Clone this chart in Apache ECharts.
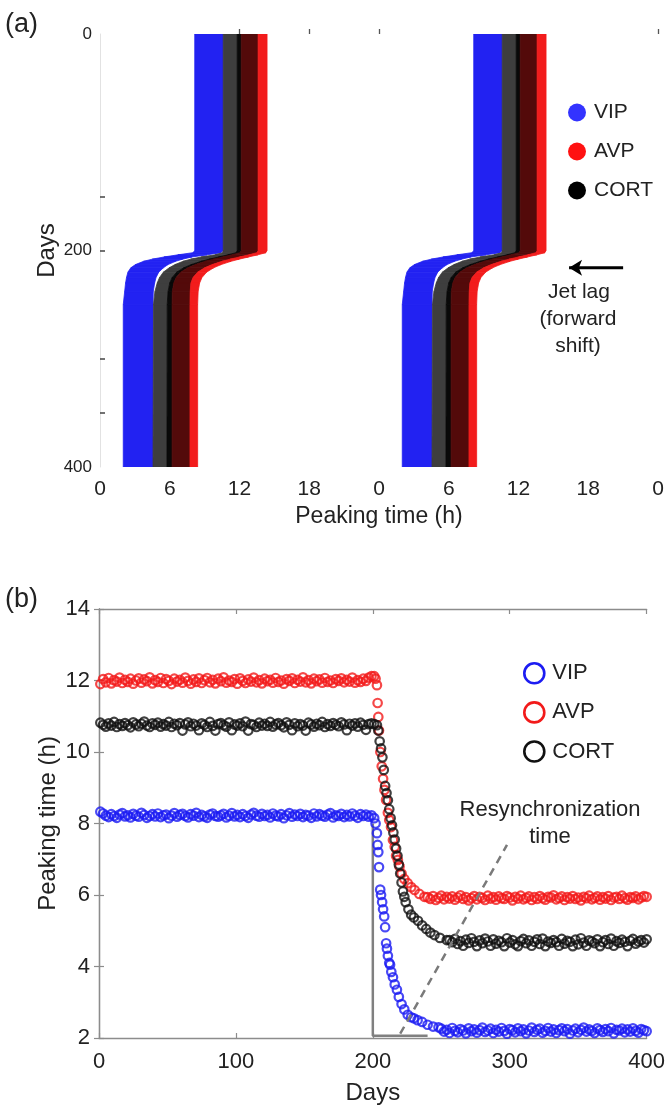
<!DOCTYPE html>
<html><head><meta charset="utf-8">
<script src="https://cdn.jsdelivr.net/npm/echarts@6/dist/echarts.min.js"></script>
<style>html,body{margin:0;padding:0;background:#fff}#c{width:668px;height:1111px}</style>
</head><body><div id="c"></div>
<script>
// ---------- Panel (a): band edges (hours) at key days ----------
const bandDays  = [0, 200, 202, 204, 206, 208, 210, 213, 216, 220, 225, 230, 238, 250, 400];
const vipStart  = [8.15, 8.15, 8.0, 6.7, 5.5, 4.5, 3.75, 3.05, 2.65, 2.4, 2.28, 2.2, 2.12, 2.0, 2.0];
const vipEnd    = [10.6, 10.6, 10.4, 9.2, 7.9, 7.1, 6.5, 5.85, 5.45, 5.05, 4.82, 4.7, 4.58, 4.56, 4.56];
const cortStart = [10.6, 10.6, 10.55, 9.9, 8.7, 7.8, 7.15, 6.45, 5.95, 5.45, 5.12, 4.92, 4.72, 4.6, 4.56];
const cortCore  = [11.8, 11.8, 11.7, 11.0, 10.2, 9.4, 8.7, 7.85, 7.2, 6.6, 6.2, 6.0, 5.85, 5.78, 5.76];
const cortEnd   = [12.15, 12.15, 12.05, 11.35, 10.55, 9.75, 9.05, 8.2, 7.55, 6.95, 6.55, 6.35, 6.22, 6.2, 6.2];
const avpCore   = [13.6, 13.6, 13.5, 12.8, 12.0, 11.2, 10.5, 9.65, 9.0, 8.4, 8.0, 7.82, 7.76, 7.74, 7.74];
const avpEnd    = [14.37, 14.37, 14.27, 13.57, 12.77, 11.97, 11.27, 10.42, 9.77, 9.17, 8.77, 8.57, 8.44, 8.4, 8.4];
const aHourTicks = [0, 6, 12, 18, 24, 30, 36, 42, 48];
const aDayLabels = [0, 200, 400];
const aDayTicks  = [150, 200, 300, 350];
const jetLagArrow = [[45.0, 216], [40.35, 216]];

// ---------- Panel (b): peaking time (h) ----------
// steady state before the shift: days 1,3,...,199
const preStart = 1, preStep = 2;
const vipPre = [
8.33,8.28,8.22,8.18,8.26,8.21,8.16,8.25,8.29,8.20,
8.23,8.17,8.27,8.22,8.19,8.30,8.24,8.16,8.21,8.26,
8.20,8.28,8.18,8.23,8.25,8.15,8.22,8.29,8.19,8.24,
8.27,8.21,8.17,8.26,8.22,8.30,8.18,8.24,8.20,8.16,
8.25,8.28,8.21,8.19,8.23,8.27,8.17,8.22,8.29,8.20,
8.24,8.18,8.26,8.21,8.16,8.25,8.30,8.22,8.19,8.27,
8.21,8.24,8.17,8.28,8.22,8.20,8.26,8.15,8.23,8.29,
8.19,8.25,8.21,8.27,8.18,8.24,8.22,8.16,8.28,8.20,
8.26,8.22,8.19,8.25,8.29,8.17,8.23,8.21,8.27,8.18,
8.24,8.20,8.28,8.22,8.16,8.26,8.21,8.25,8.19,8.23];
const avpPre = [
11.90,12.04,11.95,12.07,11.92,12.01,11.97,12.08,11.93,12.02,
11.96,12.05,11.91,12.00,12.06,11.94,12.03,11.98,12.09,11.92,
12.01,11.96,12.07,11.93,12.04,11.99,11.90,12.05,11.97,12.02,
11.94,12.08,11.99,11.91,12.03,11.96,12.06,11.93,12.01,12.07,
11.95,12.02,11.92,12.05,11.98,12.09,11.94,12.00,11.96,12.04,
11.91,12.06,11.99,11.93,12.03,11.97,12.08,11.95,12.01,11.92,
12.05,11.98,12.02,11.94,12.07,11.96,12.00,11.91,12.04,11.99,
12.06,11.93,12.02,11.97,12.09,11.95,12.01,11.92,12.05,11.98,
12.03,11.94,12.07,11.96,12.00,11.93,12.04,11.99,12.06,11.95,
12.02,11.97,12.08,11.94,12.01,11.96,12.05,11.99,12.08,12.12];
const cortPre = [
10.82,10.76,10.71,10.80,10.74,10.84,10.70,10.78,10.73,10.81,
10.75,10.69,10.83,10.77,10.72,10.79,10.85,10.74,10.70,10.80,
10.76,10.82,10.71,10.78,10.74,10.84,10.70,10.79,10.75,10.81,
10.60,10.77,10.83,10.72,10.79,10.74,10.61,10.80,10.76,10.70,
10.84,10.73,10.60,10.78,10.81,10.75,10.71,10.83,10.61,10.77,
10.74,10.80,10.72,10.85,10.60,10.78,10.76,10.70,10.82,10.74,
10.79,10.73,10.84,10.71,10.77,10.81,10.75,10.69,10.83,10.76,
10.61,10.80,10.72,10.78,10.74,10.60,10.82,10.77,10.71,10.79,
10.75,10.84,10.70,10.78,10.73,10.81,10.76,10.72,10.83,10.77,
10.61,10.79,10.74,10.80,10.71,10.82,10.76,10.62,10.78,10.80];
// transition after the jet lag: [day, hour]
const vipShift = [[201,8.15],[202,8.0],[203,7.73],[203.5,7.4],[204,7.2],[204.5,6.78],[205.4,6.15],[206,6.0],[206.8,5.8],[207.5,5.6],[208.3,5.4],[209,5.1],[209.7,4.65],[210.3,4.5],[211,4.3],[212,4.1],[212.6,4.05],[213.5,3.85],[214.7,3.7],[216,3.5],[217.6,3.35],[219,3.15],[221,2.95],[223,2.8],[225.5,2.65],[228,2.58],[230,2.55],[232.7,2.5],[236,2.45],[240,2.37],[244,2.32],[248,2.3]];
const avpShift = [[201,12.12],[202,12.05],[203,11.87],[203.5,11.37],[204,10.98],[204.5,10.6],[205.5,10.0],[206.5,9.6],[207.5,9.25],[208.5,8.94],[209.7,8.66],[211,8.3],[212,8.1],[213.3,7.9],[214.7,7.54],[216,7.35],[217,7.1],[218.3,6.98],[219.5,6.8],[221,6.6],[223,6.45],[225.5,6.33],[228,6.22],[230.5,6.14],[234,6.03],[237.7,5.95]];
const cortShift = [[201,10.78],[203,10.75],[204,10.6],[205,10.3],[206,10.1],[207,9.85],[208,9.5],[209,9.05],[210,8.85],[211,8.65],[212,8.4],[213,8.15],[214,7.95],[215,7.75],[216,7.55],[217,7.3],[218,7.1],[219,6.85],[220,6.6],[221,6.35],[222,6.1],[223,5.95],[224,5.8],[226,5.6],[228,5.45],[230,5.37],[233,5.28],[236,5.15],[239,5.05],[242,4.95],[245,4.88],[249,4.8],[254,4.74]];
// steady state after resynchronization
const vipPostStart = 250, avpPostStart = 240, cortPostStart = 256, postStep = 2;
const vipPost = [
2.26,2.18,2.23,2.14,2.28,2.20,2.16,2.25,2.21,2.13,
2.27,2.19,2.24,2.15,2.22,2.29,2.17,2.21,2.26,2.14,
2.23,2.18,2.28,2.20,2.12,2.25,2.22,2.16,2.27,2.19,
2.24,2.13,2.21,2.29,2.17,2.23,2.26,2.15,2.20,2.28,
2.18,2.24,2.14,2.22,2.27,2.19,2.25,2.12,2.21,2.26,
2.16,2.23,2.29,2.18,2.24,2.20,2.14,2.27,2.22,2.17,
2.25,2.19,2.28,2.13,2.23,2.21,2.26,2.16,2.24,2.18,
2.27,2.20,2.15,2.25,2.22,2.19];
const avpPost = [
5.94,5.89,5.97,5.86,5.92,5.98,5.88,5.95,5.90,5.96,
5.87,5.93,5.99,5.89,5.94,5.85,5.91,5.97,5.88,5.95,
5.92,5.86,5.98,5.90,5.94,5.87,5.96,5.91,5.89,5.97,
5.93,5.85,5.95,5.90,5.98,5.88,5.92,5.96,5.86,5.94,
5.89,5.97,5.91,5.87,5.95,5.93,5.99,5.88,5.92,5.96,
5.86,5.94,5.90,5.97,5.89,5.93,5.85,5.95,5.91,5.98,
5.88,5.92,5.96,5.87,5.94,5.90,5.97,5.86,5.93,5.95,
5.89,5.98,5.91,5.87,5.94,5.92,5.96,5.88,5.93,5.97,
5.95];
const cortPost = [
4.74,4.68,4.77,4.63,4.71,4.58,4.75,4.66,4.79,4.69,
4.57,4.73,4.65,4.78,4.70,4.58,4.76,4.64,4.72,4.68,
4.57,4.79,4.67,4.74,4.62,4.57,4.71,4.77,4.65,4.73,
4.58,4.69,4.76,4.63,4.78,4.57,4.70,4.66,4.74,4.68,
4.58,4.77,4.64,4.72,4.69,4.57,4.75,4.62,4.79,4.67,
4.58,4.73,4.70,4.65,4.76,4.57,4.68,4.74,4.63,4.78,
4.58,4.71,4.66,4.75,4.69,4.57,4.72,4.77,4.64,4.70,
4.74,4.67,4.76];
// annotation guides (day, hour)
const resyncStep  = [[200, 8.0], [200, 2.06], [240, 2.06]];
const resyncSlope = [[220, 2.12], [298, 7.4]];
const bDayTicks = [0, 100, 200, 300, 400];
const bHourTicks = [2, 4, 6, 8, 10, 12, 14];

// ---------- build ----------
const FONT = "'Liberation Sans', Arial, Helvetica, sans-serif";
const TXT = '#222';
const SHADES = ['#2222f2', '#3e3e3e', '#090909', '#530a0a', '#f21c1c'];
const C_VIP = '#1c1cf2', C_AVP = '#f21a1a', C_CORT = '#111111';
const AXC = '#8c8c8c';

function bandSegments(left, right, shade) {
  const out = [];
  [0, 24].forEach(off => {
    for (let i = 0; i < bandDays.length - 1; i++) {
      out.push([bandDays[i], left[i] + off, right[i] + off,
                bandDays[i + 1], left[i + 1] + off, right[i + 1] + off, shade]);
    }
  });
  return out;
}
function renderBand(params, api) {
  const d0 = api.value(0), d1 = api.value(3);
  const pts = [api.coord([api.value(1), d0]), api.coord([api.value(2), d0]),
               api.coord([api.value(5), d1]), api.coord([api.value(4), d1])];
  const c = SHADES[api.value(6)];
  return { type: 'polygon', shape: { points: pts }, style: { fill: c, stroke: c, lineWidth: 0.8 } };
}
function steady(vals, start, step) { return vals.map((v, i) => [start + step * i, v]); }

const vipB  = steady(vipPre, preStart, preStep).concat(vipShift, steady(vipPost, vipPostStart, postStep));
const avpB  = steady(avpPre, preStart, preStep).concat(avpShift, steady(avpPost, avpPostStart, postStep));
const cortB = steady(cortPre, preStart, preStep).concat(cortShift, steady(cortPost, cortPostStart, postStep));

function ringSeries(name, data, color) {
  return { name, type: 'scatter', xAxisIndex: 1, yAxisIndex: 1, data, symbol: 'circle', symbolSize: 8.5,
           itemStyle: { color: 'rgba(0,0,0,0)', borderColor: color, borderWidth: 2.2 }, z: 3,
           emphasis: { disabled: true }, clip: true };
}
function bandSeries(name, data, color) {
  return { name, type: 'custom', xAxisIndex: 0, yAxisIndex: 0, renderItem: renderBand, data,
           encode: { x: [1, 2, 4, 5], y: [0, 3] }, itemStyle: { color }, clip: true, silent: true };
}

const option = {
  animation: false,
  backgroundColor: '#fff',
  textStyle: { fontFamily: FONT, color: TXT },
  grid: [
    { left: 100, right: 10, top: 34, height: 433 },
    { left: 99, right: 12, top: 609, height: 429 }
  ],
  xAxis: [
    { gridIndex: 0, type: 'value', min: 0, max: 48, interval: 6,
      axisLine: { show: false },
      axisTick: { show: true, inside: true, length: 5, customValues: [12, 18, 24, 48], lineStyle: { color: '#555', width: 1.3 } },
      axisLabel: { customValues: aHourTicks, fontSize: 21, color: TXT, margin: 12, formatter: v => String(v % 24) },
      splitLine: { show: false },
      name: 'Peaking time (h)', nameLocation: 'middle', nameGap: 38,
      nameTextStyle: { fontSize: 23, color: TXT, fontFamily: FONT } },
    { gridIndex: 1, type: 'value', min: 0, max: 400, interval: 100,
      axisLine: { show: true, lineStyle: { color: AXC, width: 1.3 } },
      axisTick: { show: true, inside: true, length: 5, lineStyle: { color: AXC, width: 1.2 } },
      axisLabel: { customValues: bDayTicks, fontSize: 22, color: TXT, margin: 13 },
      splitLine: { show: false },
      name: 'Days', nameLocation: 'middle', nameGap: 43,
      nameTextStyle: { fontSize: 24, color: TXT, fontFamily: FONT } },
    { gridIndex: 1, type: 'value', position: 'top', min: 0, max: 400, interval: 100,
      axisLine: { show: true, lineStyle: { color: AXC, width: 1.3 } },
      axisTick: { show: true, inside: true, length: 5, lineStyle: { color: AXC, width: 1.2 } },
      axisLabel: { show: false }, splitLine: { show: false } }
  ],
  yAxis: [
    { gridIndex: 0, type: 'value', inverse: true, min: 0, max: 400,
      axisLine: { show: true, lineStyle: { color: '#e2e2e2', width: 1 } },
      axisTick: { show: true, inside: true, length: 5, customValues: aDayTicks, lineStyle: { color: '#444', width: 1.5 } },
      axisLabel: { customValues: aDayLabels, fontSize: 17, color: TXT, margin: 8 },
      splitLine: { show: false },
      name: 'Days', nameLocation: 'middle', nameGap: 41, nameRotate: 90, nameMoveOverlap: false,
      nameTextStyle: { fontSize: 24, color: TXT, fontFamily: FONT } },
    { gridIndex: 1, type: 'value', min: 2, max: 14, interval: 2,
      axisLine: { show: true, lineStyle: { color: AXC, width: 1.3 } },
      axisTick: { show: true, inside: true, length: 5, lineStyle: { color: AXC, width: 1.2 } },
      axisLabel: { customValues: bHourTicks, fontSize: 22, color: TXT, margin: 9 },
      splitLine: { show: false },
      name: 'Peaking time (h)', nameLocation: 'middle', nameGap: 39, nameRotate: 90, nameMoveOverlap: false,
      nameTextStyle: { fontSize: 24, color: TXT, fontFamily: FONT } },
    { gridIndex: 1, type: 'value', position: 'right', min: 2, max: 14, interval: 2,
      axisLine: { show: true, lineStyle: { color: AXC, width: 1.3 } },
      axisTick: { show: true, inside: true, length: 5, lineStyle: { color: AXC, width: 1.2 } },
      axisLabel: { show: false }, splitLine: { show: false } }
  ],
  legend: [
    { left: 563, top: 97, orient: 'vertical', itemWidth: 18, itemHeight: 18, itemGap: 18, icon: 'circle',
      selectedMode: false,
      textStyle: { fontSize: 21, color: TXT, fontFamily: FONT, lineHeight: 18, padding: [0, 0, 0, 3] },
      data: [ { name: 'VIP', itemStyle: { color: '#3333ff', borderWidth: 0 } },
              { name: 'AVP', itemStyle: { color: '#ff1111', borderWidth: 0 } },
              { name: 'CORT', itemStyle: { color: '#000', borderWidth: 0 } } ] },
    { left: 518, top: 657, orient: 'vertical', itemWidth: 20, itemHeight: 20, itemGap: 16.5, icon: 'circle',
      selectedMode: false,
      textStyle: { fontSize: 22, color: TXT, fontFamily: FONT, lineHeight: 20, padding: [0, 0, 0, 3] },
      data: [ { name: 'VIP', itemStyle: { color: 'rgba(0,0,0,0)', borderColor: C_VIP, borderWidth: 2.6 } },
              { name: 'AVP', itemStyle: { color: 'rgba(0,0,0,0)', borderColor: C_AVP, borderWidth: 2.6 } },
              { name: 'CORT', itemStyle: { color: 'rgba(0,0,0,0)', borderColor: C_CORT, borderWidth: 2.6 } } ] }
  ],
  series: [
    bandSeries('VIP', bandSegments(vipStart, vipEnd, 0), '#3333ff'),
    bandSeries('CORT', bandSegments(cortStart, cortCore, 1).concat(bandSegments(cortCore, cortEnd, 2)), '#000'),
    bandSeries('AVP', bandSegments(cortEnd, avpCore, 3).concat(bandSegments(avpCore, avpEnd, 4)), '#ff1111'),
    { name: 'jetlag', type: 'line', xAxisIndex: 0, yAxisIndex: 0, silent: true,
      data: [ { value: jetLagArrow[0], symbol: 'none' },
              { value: jetLagArrow[1], symbol: 'arrow', symbolSize: [12, 13], symbolRotate: 90 } ],
      lineStyle: { color: '#000', width: 3 }, itemStyle: { color: '#000' }, z: 5 },
    ringSeries('VIP', vipB, C_VIP),
    ringSeries('AVP', avpB, C_AVP),
    ringSeries('CORT', cortB, C_CORT),
    { name: 'step', type: 'line', xAxisIndex: 1, yAxisIndex: 1, data: resyncStep, symbol: 'none', silent: true,
      lineStyle: { color: '#808080', width: 2.5 }, z: 2 },
    { name: 'slope', type: 'line', xAxisIndex: 1, yAxisIndex: 1, data: resyncSlope, symbol: 'none', silent: true,
      lineStyle: { color: '#7a7a7a', width: 2.5, type: [8, 6] }, z: 6 }
  ],
  graphic: [
    { type: 'text', left: 5, top: 11, style: { text: '(a)', fontSize: 27, fill: TXT, fontFamily: FONT } },
    { type: 'text', left: 5, top: 586, style: { text: '(b)', fontSize: 27, fill: TXT, fontFamily: FONT } },
    { type: 'text', x: 579, y: 292, style: { text: 'Jet lag', fontSize: 21, fill: TXT, fontFamily: FONT, align: 'center', verticalAlign: 'middle' } },
    { type: 'text', x: 578, y: 319, style: { text: '(forward', fontSize: 21, fill: TXT, fontFamily: FONT, align: 'center', verticalAlign: 'middle' } },
    { type: 'text', x: 578, y: 346, style: { text: 'shift)', fontSize: 21, fill: TXT, fontFamily: FONT, align: 'center', verticalAlign: 'middle' } },
    { type: 'text', x: 550, y: 810, style: { text: 'Resynchronization', fontSize: 22, fill: TXT, fontFamily: FONT, align: 'center', verticalAlign: 'middle' } },
    { type: 'text', x: 550, y: 837, style: { text: 'time', fontSize: 22, fill: TXT, fontFamily: FONT, align: 'center', verticalAlign: 'middle' } }
  ]
};
const chart = echarts.init(document.getElementById('c'));
chart.setOption(option);
</script>
</body></html>
